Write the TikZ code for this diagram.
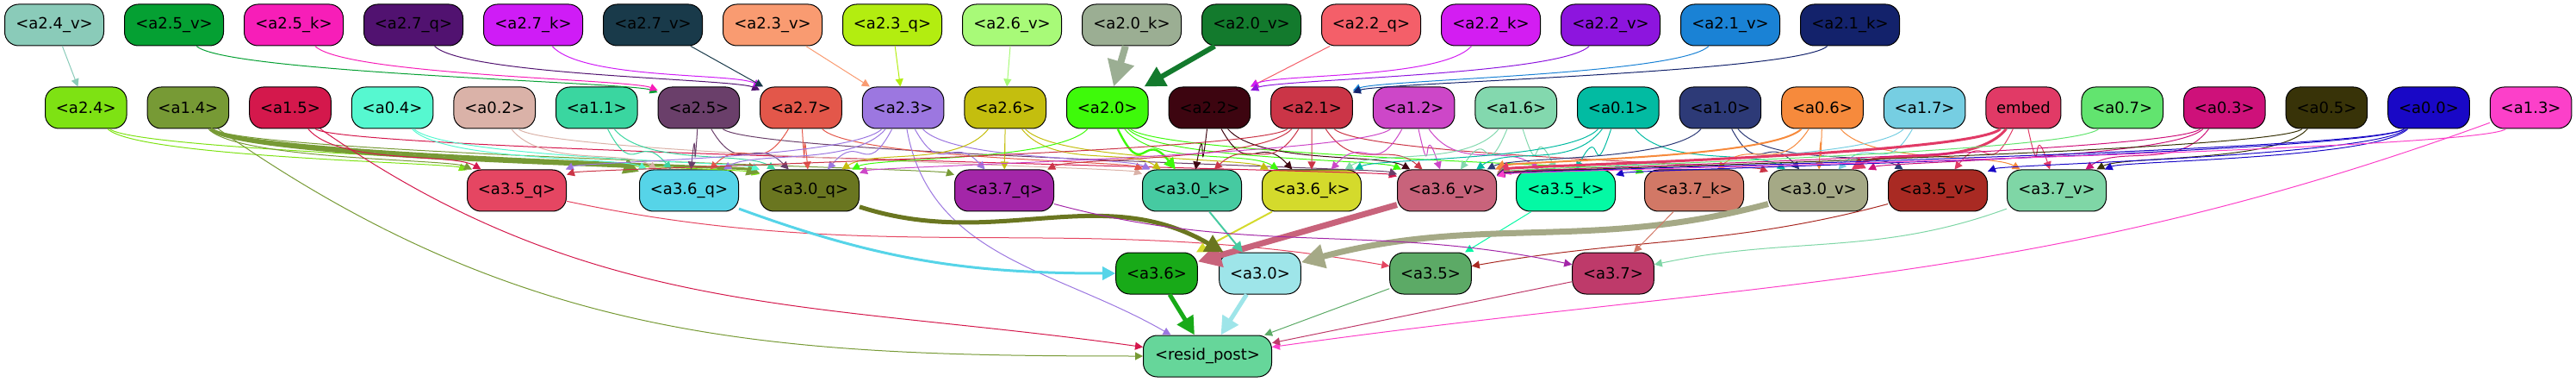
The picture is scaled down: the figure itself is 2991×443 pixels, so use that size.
\documentclass[tikz,border=0pt]{standalone}
\usepackage{fontspec}
\setmainfont{DejaVu Sans}
\usepackage{xcolor}
\usetikzlibrary{positioning,arrows.meta,calc}

\definecolor{c24v}{HTML}{8ACBB9}
\definecolor{c25v}{HTML}{05A033}
\definecolor{c25k}{HTML}{F71EB8}
\definecolor{c27q}{HTML}{511270}
\definecolor{c27k}{HTML}{CF1CF6}
\definecolor{c27v}{HTML}{193A4A}
\definecolor{c23v}{HTML}{F99B71}
\definecolor{c23q}{HTML}{B3ED10}
\definecolor{c26v}{HTML}{A8FA78}
\definecolor{c20k}{HTML}{9BAE93}
\definecolor{c20v}{HTML}{137A2D}
\definecolor{c22q}{HTML}{F45F69}
\definecolor{c22k}{HTML}{D31DF2}
\definecolor{c22v}{HTML}{8D15DE}
\definecolor{c21v}{HTML}{1A82D5}
\definecolor{c21k}{HTML}{13226B}
\definecolor{c24}{HTML}{7EE213}
\definecolor{c14}{HTML}{779A35}
\definecolor{c15}{HTML}{D4184C}
\definecolor{c04}{HTML}{56F8D0}
\definecolor{c02}{HTML}{DAB2A8}
\definecolor{c11}{HTML}{3AD6A0}
\definecolor{c25}{HTML}{6A3F6A}
\definecolor{c27}{HTML}{E3574A}
\definecolor{c23}{HTML}{9C77E0}
\definecolor{c26}{HTML}{C4BE0E}
\definecolor{c20}{HTML}{3EFA0A}
\definecolor{c22}{HTML}{3D0510}
\definecolor{c21}{HTML}{CB3547}
\definecolor{c12}{HTML}{CD47C8}
\definecolor{c16}{HTML}{83D8AE}
\definecolor{c01}{HTML}{02BBA2}
\definecolor{c10}{HTML}{2D3A77}
\definecolor{c06}{HTML}{F68A3C}
\definecolor{c17}{HTML}{76CEE2}
\definecolor{cemb}{HTML}{E13A66}
\definecolor{c07}{HTML}{62E46F}
\definecolor{c03}{HTML}{CE117A}
\definecolor{c05}{HTML}{383308}
\definecolor{c00}{HTML}{1908C6}
\definecolor{c13}{HTML}{FC40C9}
\definecolor{c35q}{HTML}{E54662}
\definecolor{c36q}{HTML}{56D4E8}
\definecolor{c30q}{HTML}{6A7620}
\definecolor{c37q}{HTML}{A326A8}
\definecolor{c30k}{HTML}{46CAA1}
\definecolor{c36k}{HTML}{D4DA2C}
\definecolor{c36v}{HTML}{C8637B}
\definecolor{c35k}{HTML}{04F9A4}
\definecolor{c37k}{HTML}{D27866}
\definecolor{c30v}{HTML}{A5A986}
\definecolor{c35v}{HTML}{A92A23}
\definecolor{c37v}{HTML}{7FD6A6}
\definecolor{c36}{HTML}{18AA18}
\definecolor{c30}{HTML}{9EE5E9}
\definecolor{c35}{HTML}{5CAA66}
\definecolor{c37}{HTML}{BE3A6A}
\definecolor{crp}{HTML}{66D69A}

\begin{document}
\begin{tikzpicture}[x=0.5pt, y=-0.5pt, node distance=11.5pt, line width=0.5pt,
    >={Triangle[length=3pt 3, width=3pt 3]},
    nd/.style={draw=black, rounded corners=8pt, minimum height=24pt, minimum width=47.3pt, inner xsep=2pt, inner ysep=0pt, font=\fontsize{9}{11}\selectfont},
    ndw/.style={nd, minimum width=57.5pt},
    sway/.style={to path={.. controls ($(\tikztostart)!30pt!(\tikztotarget)+(0,46)$) and ($(\tikztotarget)!40pt!(\tikztostart)+(0,-17)$) .. (\tikztotarget) \tikztonodes}}]
\useasboundingbox (0,0) rectangle (2991,443);

% top row
\node[ndw, fill=c24v, anchor=west] (a24v) at (5,29) {<a2.4\_v>};
\node[ndw, fill=c25v, right=of a24v] (a25v) {<a2.5\_v>};
\node[ndw, fill=c25k, right=of a25v] (a25k) {<a2.5\_k>};
\node[ndw, fill=c27q, right=of a25k] (a27q) {<a2.7\_q>};
\node[ndw, fill=c27k, right=of a27q] (a27k) {<a2.7\_k>};
\node[ndw, fill=c27v, right=of a27k] (a27v) {<a2.7\_v>};
\node[ndw, fill=c23v, right=of a27v] (a23v) {<a2.3\_v>};
\node[ndw, fill=c23q, right=of a23v] (a23q) {<a2.3\_q>};
\node[ndw, fill=c26v, right=of a23q] (a26v) {<a2.6\_v>};
\node[ndw, fill=c20k, right=of a26v] (a20k) {<a2.0\_k>};
\node[ndw, fill=c20v, right=of a20k] (a20v) {<a2.0\_v>};
\node[ndw, fill=c22q, right=of a20v] (a22q) {<a2.2\_q>};
\node[ndw, fill=c22k, right=of a22q] (a22k) {<a2.2\_k>};
\node[ndw, fill=c22v, right=of a22k] (a22v) {<a2.2\_v>};
\node[ndw, fill=c21v, right=of a22v] (a21v) {<a2.1\_v>};
\node[ndw, fill=c21k, right=of a21v] (a21k) {<a2.1\_k>};

% second row
\node[nd, fill=c24, anchor=west] (a24) at (52,125) {<a2.4>};
\node[nd, fill=c14, right=of a24] (a14) {<a1.4>};
\node[nd, fill=c15, right=of a14] (a15) {<a1.5>};
\node[nd, fill=c04, right=of a15] (a04) {<a0.4>};
\node[nd, fill=c02, right=of a04] (a02) {<a0.2>};
\node[nd, fill=c11, right=of a02] (a11) {<a1.1>};
\node[nd, fill=c25, right=of a11] (a25) {<a2.5>};
\node[nd, fill=c27, right=of a25] (a27) {<a2.7>};
\node[nd, fill=c23, right=of a27] (a23) {<a2.3>};
\node[nd, fill=c26, right=of a23] (a26) {<a2.6>};
\node[nd, fill=c20, right=of a26] (a20) {<a2.0>};
\node[nd, fill=c22, right=of a20] (a22) {<a2.2>};
\node[nd, fill=c21, right=of a22] (a21) {<a2.1>};
\node[nd, fill=c12, right=of a21] (a12) {<a1.2>};
\node[nd, fill=c16, right=of a12] (a16) {<a1.6>};
\node[nd, fill=c01, right=of a16] (a01) {<a0.1>};
\node[nd, fill=c10, right=of a01] (a10) {<a1.0>};
\node[nd, fill=c06, right=of a10] (a06) {<a0.6>};
\node[nd, fill=c17, right=of a06] (a17) {<a1.7>};
\node[nd, fill=cemb, minimum width=43.5pt, right=of a17] (emb) {embed};
\node[nd, fill=c07, right=of emb] (a07) {<a0.7>};
\node[nd, fill=c03, right=of a07] (a03) {<a0.3>};
\node[nd, fill=c05, right=of a03] (a05) {<a0.5>};
\node[nd, fill=c00, right=of a05] (a00) {<a0.0>};
\node[nd, fill=c13, right=of a00] (a13) {<a1.3>};

% third row
\node[ndw, fill=c35q] (a35q) at (600,221) {<a3.5\_q>};
\node[ndw, fill=c36q] (a36q) at (800,221) {<a3.6\_q>};
\node[ndw, fill=c30q] (a30q) at (940,221) {<a3.0\_q>};
\node[ndw, fill=c37q] (a37q) at (1166,221) {<a3.7\_q>};
\node[ndw, fill=c30k] (a30k) at (1384,221) {<a3.0\_k>};
\node[ndw, fill=c36k] (a36k) at (1523,221) {<a3.6\_k>};
\node[ndw, fill=c36v] (a36v) at (1680,221) {<a3.6\_v>};
\node[ndw, fill=c35k] (a35k) at (1818,221) {<a3.5\_k>};
\node[ndw, fill=c37k] (a37k) at (1967,221) {<a3.7\_k>};
\node[ndw, fill=c30v] (a30v) at (2111,221) {<a3.0\_v>};
\node[ndw, fill=c35v] (a35v) at (2250,221) {<a3.5\_v>};
\node[ndw, fill=c37v] (a37v) at (2388,221) {<a3.7\_v>};

% heads and output
\node[nd, fill=c36] (a36) at (1343,317) {<a3.6>};
\node[nd, fill=c30] (a30) at (1463,317) {<a3.0>};
\node[nd, fill=c35] (a35) at (1661,317) {<a3.5>};
\node[nd, fill=c37] (a37) at (1873,317) {<a3.7>};
\node[nd, fill=crp, minimum width=74.5pt] (rp) at (1402,413) {<resid\_post>};

% top row into second row
\draw[->, c24v] (a24v) -- (a24);
\draw[->, sway, c25v] (a25v) to (a25);
\draw[->, sway, c25k] (a25k) to (a25);
\draw[->, sway, c27q] (a27q) to (a27);
\draw[->, sway, c27k] (a27k) to (a27);
\draw[->, c27v] (a27v) -- (a27);
\draw[->, c23v] (a23v) -- (a23);
\draw[->, c23q] (a23q) -- (a23);
\draw[->, c26v] (a26v) -- (a26);
\draw[->, c20k, line width=4pt] (a20k) -- (a20);
\draw[->, c20v, line width=3pt] (a20v) -- (a20);
\draw[->, c22q] (a22q) -- (a22);
\draw[->, sway, c22k] (a22k) to (a22);
\draw[->, sway, c22v] (a22v) to (a22);
\draw[->, sway, c21v] (a21v) to (a21);
\draw[->, sway, c21k] (a21k) to (a21);

% second row into third row
\draw[->, sway, c24] (a24) to (a35q);
\draw[->, sway, c24] (a24) to (a30q);
\draw[->, sway, c14, line width=2pt] (a14) to (a36q);
\draw[->, sway, c14, line width=1.5pt] (a14) to (a30q);
\draw[->, sway, c14] (a14) to (a35q);
\draw[->, sway, c14] (a14) to (a37q);
\draw[->, c14] (a14) to[out=-35, in=180] (rp);
\draw[->, sway, c15] (a15) to (a35q);
\draw[->, sway, c15] (a15) to (a36v);
\draw[->, c15] (a15) to[out=-35, in=172] (rp);
\draw[->, sway, c04] (a04) to (a36q);
\draw[->, sway, c04] (a04) to (a30q);
\draw[->, sway, c02] (a02) to (a36q);
\draw[->, sway, c02] (a02) to (a30k);
\draw[->, sway, c11] (a11) to (a36q);
\draw[->, sway, c11] (a11) to (a30q);
\draw[->, sway, c25] (a25) to (a36q);
\draw[->, sway, c25] (a25) to (a30q);
\draw[->, sway, c25] (a25) to (a36v);
\draw[->, sway, c27] (a27) to (a36q);
\draw[->, sway, c27] (a27) to (a30q);
\draw[->, sway, c27] (a27) to (a30k);
\draw[->, sway, c23] (a23) to (a35q);
\draw[->, sway, c23] (a23) to (a36q);
\draw[->, sway, c23] (a23) to (a30q);
\draw[->, sway, c23] (a23) to (a37q);
\draw[->, sway, c23] (a23) to (a30k);
\draw[->, c23] (a23) to[out=-80, in=150] (rp);
\draw[->, sway, c26] (a26) to (a30q);
\draw[->, sway, c26] (a26) to (a37q);
\draw[->, sway, c26] (a26) to (a30k);
\draw[->, sway, c26] (a26) to (a36k);
\draw[->, sway, c20] (a20) to (a30q);
\draw[->, sway, c20, line width=1.2pt] (a20) to (a30k);
\draw[->, sway, c20] (a20) to (a36k);
\draw[->, sway, c20] (a20) to (a36v);
\draw[->, sway, c20] (a20) to (a37k);
\draw[->, sway, c22] (a22) to (a30k);
\draw[->, sway, c22] (a22) to (a36k);
\draw[->, sway, c22] (a22) to (a36v);
\draw[->, sway, c21] (a21) to (a35q);
\draw[->, sway, c21] (a21) to (a37q);
\draw[->, sway, c21] (a21) to (a30k);
\draw[->, sway, c21] (a21) to (a36k);
\draw[->, sway, c21] (a21) to (a36v);
\draw[->, sway, c21] (a21) to (a30v);
\draw[->, sway, c12] (a12) to (a30q);
\draw[->, sway, c12] (a12) to (a36k);
\draw[->, sway, c12] (a12) to (a35k);
\draw[->, sway, c12] (a12) to (a36v);
\draw[->, sway, c16] (a16) to (a36k);
\draw[->, sway, c16] (a16) to (a36v);
\draw[->, sway, c16] (a16) to (a35k);
\draw[->, sway, c01] (a01) to (a36k);
\draw[->, sway, c01] (a01) to (a36v);
\draw[->, sway, c01] (a01) to (a35k);
\draw[->, sway, c01] (a01) to (a30v);
\draw[->, sway, c10] (a10) to (a36v);
\draw[->, sway, c10] (a10) to (a30v);
\draw[->, sway, c10] (a10) to (a35v);
\draw[->, sway, c06, line width=1pt] (a06) to (a36v);
\draw[->, sway, c06] (a06) to (a37k);
\draw[->, sway, c06] (a06) to (a30v);
\draw[->, sway, c06] (a06) to (a37v);
\draw[->, sway, c17] (a17) to (a30v);
\draw[->, sway, c17] (a17) to (a35k);
\draw[->, sway, cemb, line width=1.5pt] (emb) to (a36v);
\draw[->, sway, cemb, line width=1.5pt] (emb) to (a30v);
\draw[->, sway, cemb] (emb) to (a35v);
\draw[->, sway, cemb] (emb) to (a37v);
\draw[->, sway, c07] (a07) to (a36v);
\draw[->, sway, c03] (a03) to (a36v);
\draw[->, sway, c03] (a03) to (a30v);
\draw[->, sway, c03] (a03) to (a37v);
\draw[->, sway, c05] (a05) to (a36v);
\draw[->, sway, c05] (a05) to (a37v);
\draw[->, sway, c00] (a00) to (a36v);
\draw[->, sway, c00] (a00) to (a35k);
\draw[->, sway, c00] (a00) to (a35v);
\draw[->, sway, c00] (a00) to (a37v);
\draw[->, sway, c13] (a13) to (a36v);
\draw[->, c13] (a13) to[out=200, in=8] (rp);

% third row into heads
\draw[->, c35q] (a35q) to[out=-12, in=170] (a35);
\draw[->, c35k] (a35k) -- (a35);
\draw[->, c35v] (a35v) to[out=195, in=10] (a35);
\draw[->, c36q, line width=1.5pt] (a36q) to[out=-20, in=180] (a36);
\draw[->, c36k, line width=1pt] (a36k) -- (a36);
\draw[->, c36v, line width=3.5pt] (a36v) -- (a36);
\draw[->, c30q, line width=2.5pt] (a30q) to[out=-18, in=150] (a30);
\draw[->, c30k, line width=1pt] (a30k) -- (a30);
\draw[->, c30v, line width=3.5pt] (a30v) to[out=195, in=15] (a30);
\draw[->, c37q] (a37q) to[out=-15, in=168] (a37);
\draw[->, c37k] (a37k) -- (a37);
\draw[->, c37v] (a37v) to[out=200, in=12] (a37);

% heads into output
\draw[->, c36, line width=2.5pt] (a36) -- (rp);
\draw[->, c30, line width=2.5pt] (a30) -- (rp);
\draw[->, c35] (a35) -- (rp);
\draw[->, c37] (a37) -- (rp);
\end{tikzpicture}
\end{document}
